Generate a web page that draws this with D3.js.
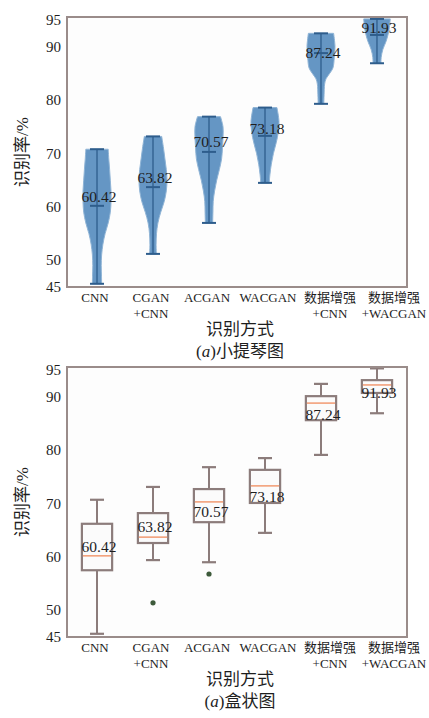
<!DOCTYPE html>
<html><head><meta charset="utf-8">
<script src="https://cdn.jsdelivr.net/npm/d3@7"></script>
<style>
html,body{margin:0;padding:0;background:#fff;}
svg{display:block;}
text{font-family:"Liberation Serif","Noto Sans CJK SC",serif;fill:#1e1e1e;}
</style></head>
<body>
<script>
// ---------- data ----------
const tickLine1 = ["CNN","CGAN","ACGAN","WACGAN","数据增强","数据增强"];
const tickLine2 = ["","+CNN","","","+CNN","+WACGAN"];
const meanLabels = [60.42,63.82,70.57,73.18,87.24,91.93];
const yTicks = [45,50,60,70,80,90,95];

// violin density profiles: [value, relative width]
const violinCNN    = [[45.6,0.33],[47,0.32],[49,0.3],[51,0.33],[53,0.42],[55,0.58],[57,0.8],[59,0.95],[61,1.0],[63,1.0],[65,0.95],[67,0.9],[69,0.84],[70.8,0.8]];
const violinCGAN   = [[51.2,0.24],[53,0.22],[55,0.25],[57,0.35],[59,0.55],[61,0.8],[63,0.95],[65,1.0],[67,0.95],[69,0.85],[71,0.75],[73.2,0.62]];
const violinACGAN  = [[57.0,0.26],[59,0.28],[61,0.3],[63,0.4],[65,0.55],[67,0.74],[69,0.9],[71,0.96],[73,1.0],[75,1.0],[76.9,0.82]];
const violinWACGAN = [[64.5,0.3],[66,0.35],[68,0.45],[70,0.6],[72,0.8],[74,0.95],[76,1.0],[78.6,0.85]];
const violinAugCNN = [[79.3,0.2],[81,0.22],[83,0.26],[84,0.36],[85,0.62],[86,0.85],[88,0.95],[90,1.0],[92.5,0.9]];
const violinAugWAC = [[86.9,0.28],[88,0.3],[89.5,0.42],[91,0.65],[93,0.85],[95.2,0.95]];
const violins = [violinCNN,violinCGAN,violinACGAN,violinWACGAN,violinAugCNN,violinAugWAC];

// box plot statistics
const boxLow  = [45.6,59.4,59.0,64.5,79.1,86.9];
const boxQ1   = [57.5,62.6,66.5,70.1,85.6,90.7];
const boxMed  = [60.2,63.7,70.3,73.3,88.8,92.2];
const boxQ3   = [66.2,68.2,72.7,76.3,90.1,93.1];
const boxHigh = [70.7,73.1,76.8,78.5,92.4,95.3];
const boxOutliers = [[],[51.4],[56.8],[],[],[]];

// ---------- layout ----------
const W = 429, H = 718;
const left = 67, right = 407;
const panels = [
  {top:17, bottom:287, caption:"小提琴图", kind:"violin"},
  {top:367, bottom:637, caption:"盒状图", kind:"box"}
];
const tickNudge = [-2,-2,-2,3,9,17];
const boxLabelDy = [-8,-10,11,10,3,6];

const svg = d3.select("body").append("svg").attr("width",W).attr("height",H);
const idx = d3.range(tickLine1.length);
const x = d3.scalePoint().domain(idx).range([left,right]).padding(0.536);
const step = x.step();
const maxHalf = step*0.25;
const capHalf = step*0.125;

panels.forEach((p,pi)=>{
  const y = d3.scaleLinear().domain([45,95.56]).range([p.bottom,p.top]);
  const g = svg.append("g");
  const clipId = "clip"+pi;
  g.append("clipPath").attr("id",clipId).append("rect")
    .attr("x",left).attr("y",p.top).attr("width",right-left).attr("height",p.bottom-p.top);

  g.append("rect").attr("x",left).attr("y",p.top).attr("width",right-left).attr("height",p.bottom-p.top)
    .attr("fill","#fdfdfd");

  const marks = g.append("g").attr("clip-path",`url(#${clipId})`);

  if(p.kind==="violin"){
    violins.forEach((prof,i)=>{
      const cx = x(i);
      const area = d3.area()
        .y(d=>y(d[0]))
        .x0(d=>cx - d[1]*maxHalf)
        .x1(d=>cx + d[1]*maxHalf)
        .curve(d3.curveCatmullRom.alpha(0.5));
      marks.append("path").attr("d",area(prof))
        .attr("fill","#6596c4").attr("stroke","#8fb4d6").attr("stroke-width",1);
      const vmin = prof[0][0], vmax = prof[prof.length-1][0];
      const lc = "#2e5d8c";
      marks.append("line").attr("x1",cx).attr("x2",cx).attr("y1",y(vmin)).attr("y2",y(vmax))
        .attr("stroke",lc).attr("stroke-width",1.3);
      [vmin,vmax,boxMed[i]].forEach(v=>{
        marks.append("line").attr("x1",cx-capHalf).attr("x2",cx+capHalf).attr("y1",y(v)).attr("y2",y(v))
          .attr("stroke",lc).attr("stroke-width",2);
      });
      g.append("text").attr("x",cx+2).attr("y",y(meanLabels[i])-3)
        .attr("text-anchor","middle").attr("font-size",15.5).text(meanLabels[i].toFixed(2));
    });
  } else {
    const bc = "#8c7c7b";
    const boxHalf = step*0.27;
    idx.forEach(i=>{
      const cx = x(i);
      marks.append("line").attr("x1",cx).attr("x2",cx).attr("y1",y(boxLow[i])).attr("y2",y(boxQ1[i]))
        .attr("stroke",bc).attr("stroke-width",2);
      marks.append("line").attr("x1",cx).attr("x2",cx).attr("y1",y(boxQ3[i])).attr("y2",y(boxHigh[i]))
        .attr("stroke",bc).attr("stroke-width",2);
      [boxLow[i],boxHigh[i]].forEach(v=>{
        marks.append("line").attr("x1",cx-capHalf).attr("x2",cx+capHalf).attr("y1",y(v)).attr("y2",y(v))
          .attr("stroke",bc).attr("stroke-width",2.2);
      });
      marks.append("rect").attr("x",cx-boxHalf).attr("width",boxHalf*2)
        .attr("y",y(boxQ3[i])).attr("height",y(boxQ1[i])-y(boxQ3[i]))
        .attr("fill","#fbfbfb").attr("stroke",bc).attr("stroke-width",2.2);
      marks.append("line").attr("x1",cx-boxHalf+1).attr("x2",cx+boxHalf-1).attr("y1",y(boxMed[i])).attr("y2",y(boxMed[i]))
        .attr("stroke","#f2a07a").attr("stroke-width",1.6);
      boxOutliers[i].forEach(v=>{
        marks.append("circle").attr("cx",cx).attr("cy",y(v)).attr("r",2.6).attr("fill","#3d5a3a");
      });
      g.append("text").attr("x",cx+2).attr("y",y(meanLabels[i])+boxLabelDy[i]+5.3)
        .attr("text-anchor","middle").attr("font-size",15.5).text(meanLabels[i].toFixed(2));
    });
  }

  // frame
  g.append("rect").attr("x",left).attr("y",p.top).attr("width",right-left).attr("height",p.bottom-p.top)
    .attr("fill","none").attr("stroke","#9a8c8a").attr("stroke-width",2);

  // y tick labels
  g.selectAll("text.yt").data(yTicks).join("text").attr("class","yt")
    .attr("x",left-6).attr("y",d=>y(d)).attr("dy","0.34em")
    .attr("text-anchor","end").attr("font-size",15).text(d=>d);

  // x tick labels
  idx.forEach(i=>{
    const tx = x(i)+tickNudge[i];
    g.append("text").attr("x",tx).attr("y",p.bottom+15).attr("text-anchor","middle")
      .attr("font-size",13).text(tickLine1[i]);
    if(tickLine2[i]) g.append("text").attr("x",tx).attr("y",p.bottom+31).attr("text-anchor","middle")
      .attr("font-size",13).text(tickLine2[i]);
  });

  // axis titles
  const midX = (left+right)/2 + 3;
  g.append("text").attr("x",midX).attr("y",p.bottom+48).attr("text-anchor","middle")
    .attr("font-size",17).text("识别方式");
  const cap = g.append("text").attr("x",midX).attr("y",p.bottom+70).attr("text-anchor","middle")
    .attr("font-size",17);
  cap.append("tspan").text("(");
  cap.append("tspan").attr("font-style","italic").text("a");
  cap.append("tspan").text(")"+p.caption);

  g.append("text").attr("transform",`translate(28,${(p.top+p.bottom)/2}) rotate(-90)`)
    .attr("text-anchor","middle").attr("font-size",17).text("识别率/%");
});
</script>
</body></html>
